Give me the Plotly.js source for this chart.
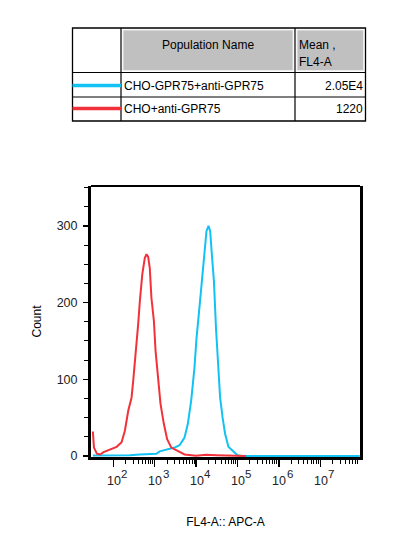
<!DOCTYPE html>
<html>
<head>
<meta charset="utf-8">
<script src="https://cdn.plot.ly/plotly-3.0.1.min.js"></script>
<style>html,body{margin:0;padding:0;background:#fff;}#chart{width:397px;height:536px;}</style>
</head>
<body>
<div id="chart"></div>
<script>
// ---- data ----
const seriesNames = ["CHO-GPR75+anti-GPR75", "CHO+anti-GPR75"];
const seriesMeans = ["2.05E4", "1220"];
const tableHeaders = ["Population Name", "Mean ,", "FL4-A"];

const blueFL4 = [32, 158, 251, 437, 1096, 1318, 1905, 3020, 3981, 5248, 6310, 7586, 9120, 10230, 12020, 13800, 15850, 17780, 19950, 21880, 23990, 26920, 30200, 33880, 38020, 43650, 50120, 60260, 75860, 100000, 125900, 90000000];
const blueCount = [0.5, 0.5, 1, 2, 3, 6, 8, 11, 14, 24, 42, 72, 115, 154, 193, 232, 271, 293, 300, 293, 263, 228, 167, 120, 76, 50, 29, 12, 7, 1, 0, 0];

const redFL4 = [32, 34, 40, 48, 58, 83, 120, 158, 190, 229, 275, 302, 347, 398, 437, 501, 575, 631, 692, 759, 832, 955, 1047, 1202, 1380, 1660, 1995, 2512, 3631, 5248, 10000, 17378, 30200, 100000, 160000];
const redCount = [32, 11, 3, 2, 5, 8, 12, 18, 33, 59, 76, 98, 133, 172, 202, 237, 258, 263, 260, 245, 206, 176, 137, 102, 68, 42, 22, 11, 6, 2, 0.3, 1.5, 1, 0, 0];

const xMajorVals = [1e2, 1e3, 1e4, 1e5, 1e6, 1e7];
const xMajorBase = "10";
const xMajorExp = ["2", "3", "4", "5", "6", "7"];
const xMinorVals = [200,300,400,500,600,700,800,900,
  2e3,3e3,4e3,5e3,6e3,7e3,8e3,9e3,
  2e4,3e4,4e4,5e4,6e4,7e4,8e4,9e4,
  2e5,3e5,4e5,5e5,6e5,7e5,8e5,9e5,
  2e6,3e6,4e6,5e6,6e6,7e6,8e6,9e6,
  2e7,3e7,4e7,5e7,6e7,7e7,8e7];
const yMajorVals = [0, 100, 200, 300];

// ---- styling ----
const FONT = "Liberation Sans, Arial, sans-serif";
const CYAN = "#12C2F2";
const RED = "#F2323A";
const W = 397, H = 536;
const L = 91, R = 360, T = 186, B = 457;
const px = v => (v - L) / (R - L);
const py = v => (B - v) / (B - T);

const traces = [
  {x: blueFL4, y: blueCount, type: "scatter", mode: "lines", line: {color: CYAN, width: 2}, name: seriesNames[0], showlegend: false, hoverinfo: "skip"},
  {x: redFL4, y: redCount, type: "scatter", mode: "lines", line: {color: RED, width: 2}, name: seriesNames[1], showlegend: false, hoverinfo: "skip"}
];

const shapes = [];
const ann = [];
function line(x0, y0, x1, y1, color, width) {
  shapes.push({type: "line", xref: "paper", yref: "paper", x0: px(x0), y0: py(y0), x1: px(x1), y1: py(y1), line: {color: color, width: width}});
}
function rect(x0, y0, x1, y1, fill, lc, lw) {
  shapes.push({type: "rect", xref: "paper", yref: "paper", x0: px(x0), y0: py(y0), x1: px(x1), y1: py(y1), fillcolor: fill, line: {color: lc, width: lw}});
}
function text(t, x, y, xa) {
  ann.push({text: t, xref: "paper", yref: "paper", x: px(x), y: py(y), xanchor: xa, yanchor: "middle", showarrow: false, font: {family: FONT, size: 12, color: "#000"}});
}

// table
const tL = 72.5, tC1 = 121, tC2 = 295, tR = 365.5, tT = 28, tH = 72.5, tM = 97, tB = 121;
rect(tC1 + 2, tT + 2, tC2 - 2, tH - 2, "#C0C0C0", "#EDEDED", 1);
rect(tC2 + 2, tT + 2, tR - 2, tH - 2, "#C0C0C0", "#EDEDED", 1);
rect(tL, tT, tR, tB, "rgba(0,0,0,0)", "#000", 1.3);
line(tC1, tT, tC1, tB, "#000", 1.2);
line(tC2, tT, tC2, tB, "#000", 1.2);
line(tL, tH, tR, tH, "#000", 1.2);
line(tL, tM, tR, tM, "#000", 1.2);
line(tL, 85.5, tC1, 85.5, CYAN, 3.5);
line(tL, 108.5, tC1, 108.5, RED, 3.5);
text(tableHeaders[0], (tC1 + tC2) / 2, 44.5, "center");
text(tableHeaders[1], tC2 + 1.5, 45, "left");
text(tableHeaders[2], tC2 + 1.5, 62, "left");
text(seriesNames[0], tC1 + 0.5, 86, "left");
text(seriesNames[1], tC1 + 0.5, 109.5, "left");
text(seriesMeans[0], tR - 1, 86, "right");
text(seriesMeans[1], tR - 1, 109.5, "right");

// x tick labels: "10" with a raised exponent
const tickFont = {family: FONT, size: 12.5, color: "#222"};
const expFont = {family: FONT, size: 11.5, color: "#222"};
xMajorVals.forEach((v, i) => {
  ann.push({text: xMajorBase, xref: "x", yref: "paper", x: Math.log10(v), y: py(480.5), xanchor: "right", yanchor: "middle", xshift: 7.5, showarrow: false, borderpad: 0, borderwidth: 0, font: tickFont});
  ann.push({text: xMajorExp[i], xref: "x", yref: "paper", x: Math.log10(v), y: py(474), xanchor: "left", yanchor: "middle", xshift: 7.8, showarrow: false, borderpad: 0, borderwidth: 0, font: expFont});
});

// top frame line of plot
line(L, T, R, T, "#000", 2);

const layout = {
  width: W, height: H,
  margin: {l: L, r: W - R, t: T, b: H - B, pad: 0},
  paper_bgcolor: "#fff", plot_bgcolor: "#fff",
  font: {family: FONT, size: 12, color: "#000"},
  showlegend: false,
  xaxis: {
    type: "log", range: [1.46, 7.96], autorange: false,
    showgrid: false, zeroline: false,
    showline: true, linecolor: "#000", linewidth: 3,
    ticks: "outside", ticklen: 7, tickwidth: 1.3, tickcolor: "#000",
    tickmode: "array", tickvals: xMajorVals, showticklabels: false,
    minor: {tickmode: "array", tickvals: xMinorVals, ticks: "outside", ticklen: 4, tickwidth: 1, tickcolor: "#000", showgrid: false},
    title: {text: "FL4-A:: APC-A", font: {family: FONT, size: 12, color: "#000"}, standoff: 52}
  },
  yaxis: {
    range: [-1.3, 352], autorange: false,
    showgrid: false, zeroline: false,
    showline: true, linecolor: "#000", linewidth: 3, mirror: true,
    ticks: "outside", ticklen: 5, tickwidth: 1.3, tickcolor: "#000",
    tickmode: "array", tickvals: yMajorVals,
    ticklabelstandoff: 3,
    tickfont: tickFont,
    minor: {dtick: 25, tick0: 0, ticks: "outside", ticklen: 4, tickwidth: 1, tickcolor: "#000", showgrid: false},
    title: {text: "Count", font: {family: FONT, size: 12, color: "#000"}, standoff: 13}
  },
  shapes: shapes,
  annotations: ann
};

Plotly.newPlot("chart", traces, layout, {staticPlot: true, displayModeBar: false});
</script>
</body>
</html>
